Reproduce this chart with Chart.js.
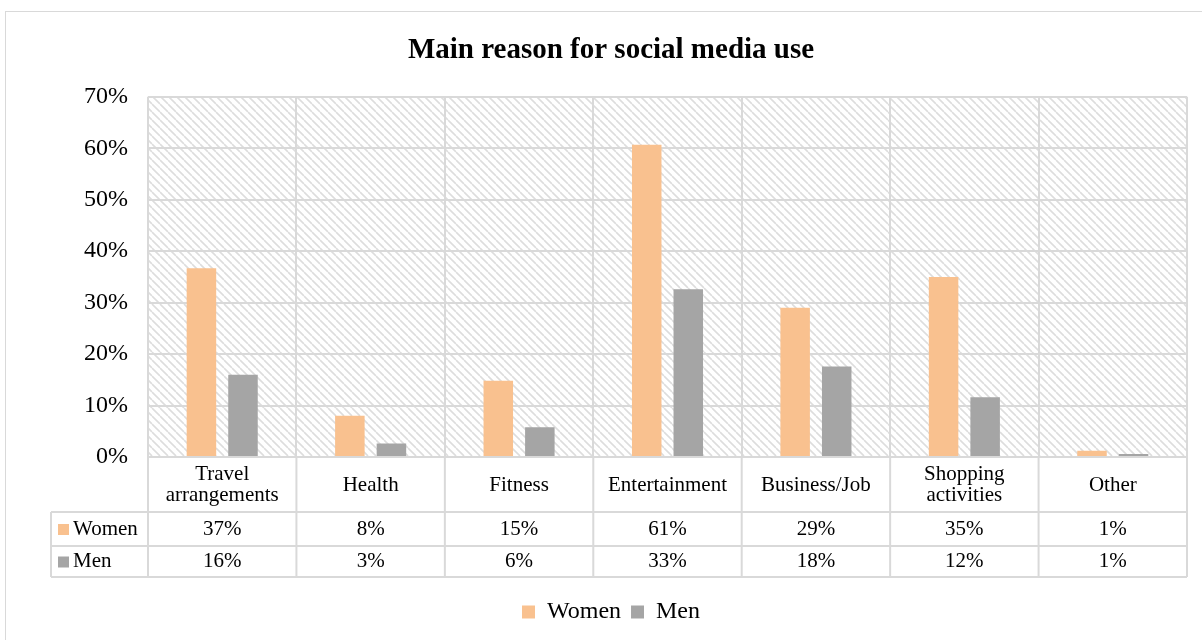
<!DOCTYPE html>
<html>
<head>
<meta charset="utf-8">
<title>Main reason for social media use</title>
<script src="https://cdn.jsdelivr.net/npm/chart.js@4.4.1/dist/chart.umd.min.js"></script>
<style>
  html, body { margin: 0; padding: 0; background: #fff; }
  #wrap { width: 1202px; height: 640px; position: relative; }
</style>
</head>
<body>
<div id="wrap"><canvas id="reasonChart"></canvas></div>
<script>
const categories = [["Travel", "arrangements"], "Health", "Fitness", "Entertainment", "Business/Job", ["Shopping", "activities"], "Other"];
const women = [36.7, 8.0, 14.8, 60.7, 29.0, 35.0, 1.2];
const men = [16.0, 2.6, 5.8, 32.6, 17.6, 11.6, 0.6];
const yTicks = [0, 10, 20, 30, 40, 50, 60, 70];

const gridColor = "#d9d9d9";
const serif = "'Liberation Serif', 'Times New Roman', serif";

// light "\" stripes behind the bars
function makeHatch(ctx) {
  const c = document.createElement("canvas");
  c.width = 8;
  c.height = 8;
  const g = c.getContext("2d");
  g.strokeStyle = "#dddddd";
  g.lineWidth = 1.6;
  g.beginPath();
  for (let k = -8; k <= 8; k += 8) {
    g.moveTo(k, 0);
    g.lineTo(k + 8, 8);
  }
  g.stroke();
  return ctx.createPattern(c, "repeat");
}

const plotBackground = {
  id: "plotBackground",
  beforeDraw(chart) {
    const { ctx, chartArea: a } = chart;
    ctx.save();
    ctx.fillStyle = makeHatch(ctx);
    ctx.fillRect(a.left, a.top, a.right - a.left, a.bottom - a.top);
    ctx.strokeStyle = gridColor;
    ctx.lineWidth = 1;
    ctx.strokeRect(5.5, 11.5, 1200, 640);
    ctx.restore();
  }
};

// data table under the plot (category names + values)
const dataTable = {
  id: "dataTable",
  afterDraw(chart) {
    const { ctx, chartArea: a, scales: { x } } = chart;
    const half = (a.right - a.left) / categories.length / 2;
    const top = a.bottom;
    const row1 = top + 55, row2 = top + 89, bottom = top + 120;
    const keyLeft = 51;

    ctx.save();
    ctx.strokeStyle = gridColor;
    ctx.lineWidth = 2;
    ctx.beginPath();
    categories.forEach((c, i) => {
      const cx = x.getPixelForValue(i);
      ctx.moveTo(cx - half, top);
      ctx.lineTo(cx - half, bottom);
    });
    ctx.moveTo(a.right, top);
    ctx.lineTo(a.right, bottom);
    ctx.moveTo(keyLeft, row1);
    ctx.lineTo(keyLeft, bottom);
    [row1, row2, bottom].forEach(y => {
      ctx.moveTo(keyLeft, y);
      ctx.lineTo(a.right, y);
    });
    ctx.stroke();

    ctx.fillStyle = "#000";
    ctx.font = "21px " + serif;
    ctx.textAlign = "center";
    ctx.textBaseline = "middle";
    categories.forEach((c, i) => {
      const cx = x.getPixelForValue(i);
      const lines = Array.isArray(c) ? c : [c];
      const mid = top + 28;
      lines.forEach((t, j) => {
        ctx.fillText(t, cx, mid + (j - (lines.length - 1) / 2) * 21);
      });
    });

    const rowMids = [(row1 + row2) / 2, (row2 + bottom) / 2];
    chart.data.datasets.forEach((ds, r) => {
      const y = rowMids[r];
      ctx.fillStyle = ds.backgroundColor;
      ctx.fillRect(58, y - 5, 11, 11);
      ctx.fillStyle = "#000";
      ctx.textAlign = "left";
      ctx.fillText(ds.label, 73, y);
      ctx.textAlign = "center";
      ds.data.forEach((v, i) => {
        ctx.fillText(Math.round(v) + "%", x.getPixelForValue(i), y);
      });
    });
    ctx.restore();
  }
};

new Chart(document.getElementById("reasonChart"), {
  type: "bar",
  data: {
    labels: categories,
    datasets: [
      {
        label: "Women",
        data: women,
        backgroundColor: "#F9C18F",
        categoryPercentage: 0.56,
        barPercentage: 0.71
      },
      {
        label: "Men",
        data: men,
        backgroundColor: "#A5A5A5",
        categoryPercentage: 0.56,
        barPercentage: 0.71
      }
    ]
  },
  options: {
    responsive: true,
    maintainAspectRatio: false,
    animation: false,
    layout: {
      padding: { left: 35, right: 15, top: 0, bottom: 6 }
    },
    plugins: {
      title: {
        display: true,
        text: "Main reason for social media use",
        color: "#000",
        font: { family: serif, size: 29, weight: "bold", lineHeight: 1.2 },
        padding: { top: 33, bottom: 29 }
      },
      legend: {
        position: "bottom",
        labels: {
          color: "#000",
          font: { family: serif, size: 24 },
          boxWidth: 13,
          boxHeight: 13,
          padding: 10
        }
      },
      tooltip: { enabled: false }
    },
    scales: {
      x: {
        grid: { color: gridColor, lineWidth: 2, drawTicks: false, offset: true },
        border: { color: gridColor, width: 2 },
        ticks: { display: false },
        afterFit(scale) { scale.height = 133; }
      },
      y: {
        min: 0,
        max: 70,
        grid: { color: gridColor, lineWidth: 2, drawTicks: false },
        border: { display: false },
        afterBuildTicks(scale) { scale.ticks = yTicks.map(v => ({ value: v })); },
        ticks: {
          color: "#000",
          padding: 20,
          font: { family: serif, size: 24 },
          callback: v => v + "%"
        },
        afterFit(scale) { scale.width = 113; }
      }
    }
  },
  plugins: [plotBackground, dataTable]
});
</script>
</body>
</html>
